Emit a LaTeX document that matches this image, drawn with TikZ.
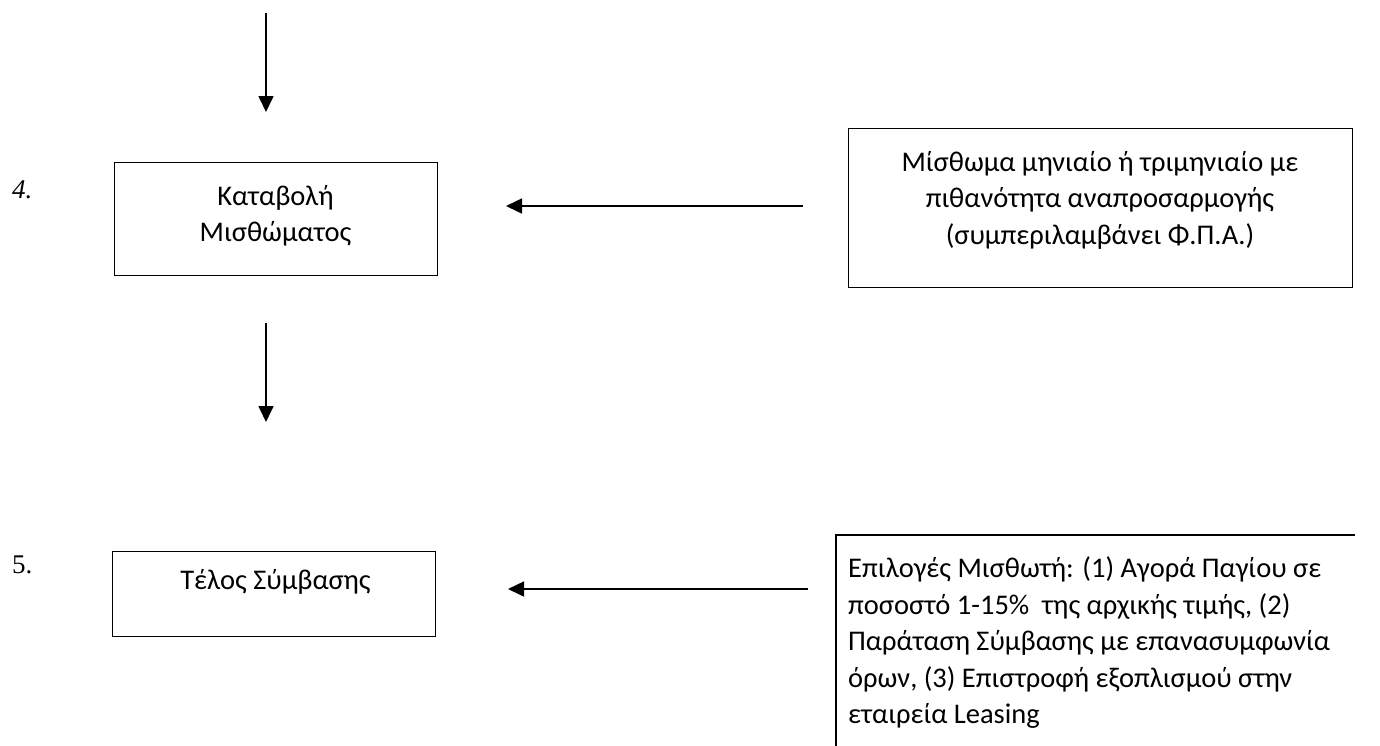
\documentclass[tikz,border=0pt]{standalone}
\usepackage{fontspec}
\setmainfont{Carlito}
\newfontfamily\tnr{Liberation Serif}
\usetikzlibrary{arrows.meta}
\begin{document}
\begin{tikzpicture}[x=1pt,y=-1pt,
  box/.style={draw, line width=1.3pt, inner sep=0pt},
  txt/.style={font=\fontsize{28.5}{36.5}\selectfont, inner sep=0pt, align=center},
  arr/.style={line width=1.6pt, -{Triangle[width=15pt,length=16pt]}},
  num/.style={inner sep=0pt, anchor=west}]
\useasboundingbox (0,0) rectangle (1380,745);
\fill[white] (0,0) rectangle (1380,745);
% step 4
\node[box, minimum width=323pt, minimum height=113pt, anchor=north west] (b4) at (114,162) {};
\node[txt] (t4) at (275.5,216) {Καταβολή\\Μισθώματος};
\node[num, font=\tnr\itshape\fontsize{27}{32}\selectfont] (n4) at (12,190) {4.};
% right box 1
\node[box, minimum width=504pt, minimum height=159pt, anchor=north west] (r1) at (848,128) {};
\node[txt] (tr1) at (1100,200) {Μίσθωμα μηνιαίο ή τριμηνιαίο με\\πιθανότητα αναπροσαρμογής\\(συμπεριλαμβάνει Φ.Π.Α.)};
% step 5
\node[box, minimum width=323pt, minimum height=85pt, anchor=north west] (b5) at (112,551) {};
\node[txt] (t5) at (275.5,582) {Τέλος Σύμβασης};
\node[num, font=\tnr\fontsize{27}{32}\selectfont] (n5) at (12,565) {5.};
% right box 2 (open at the bottom)
\coordinate (r2bl) at (836,760);
\coordinate (r2tl) at (836,535);
\coordinate (r2tr) at (1355,535);
\draw[line width=1.3pt] (r2bl) -- (r2tl) -- (r2tr);
\node[txt, align=left, anchor=west] (tr2) at (848,643) {Επιλογές Μισθωτή: (1) Αγορά Παγίου σε\\ποσοστό 1-15\%\ \ της αρχικής τιμής, (2)\\Παράταση Σύμβασης με επανασυμφωνία\\όρων, (3) Επιστροφή εξοπλισμού στην\\εταιρεία Leasing};
% connectors
\coordinate (a1s) at (266,13);
\coordinate (a1e) at (266,112);
\draw[arr] (a1s) -- (a1e);
\coordinate (a2s) at (266,323);
\coordinate (a2e) at (266,422);
\draw[arr] (a2s) -- (a2e);
\coordinate (h1s) at (803,206);
\coordinate (h1e) at (506,206);
\draw[arr] (h1s) -- (h1e);
\coordinate (h2s) at (808,589);
\coordinate (h2e) at (508,589);
\draw[arr] (h2s) -- (h2e);
\end{tikzpicture}
\end{document}
